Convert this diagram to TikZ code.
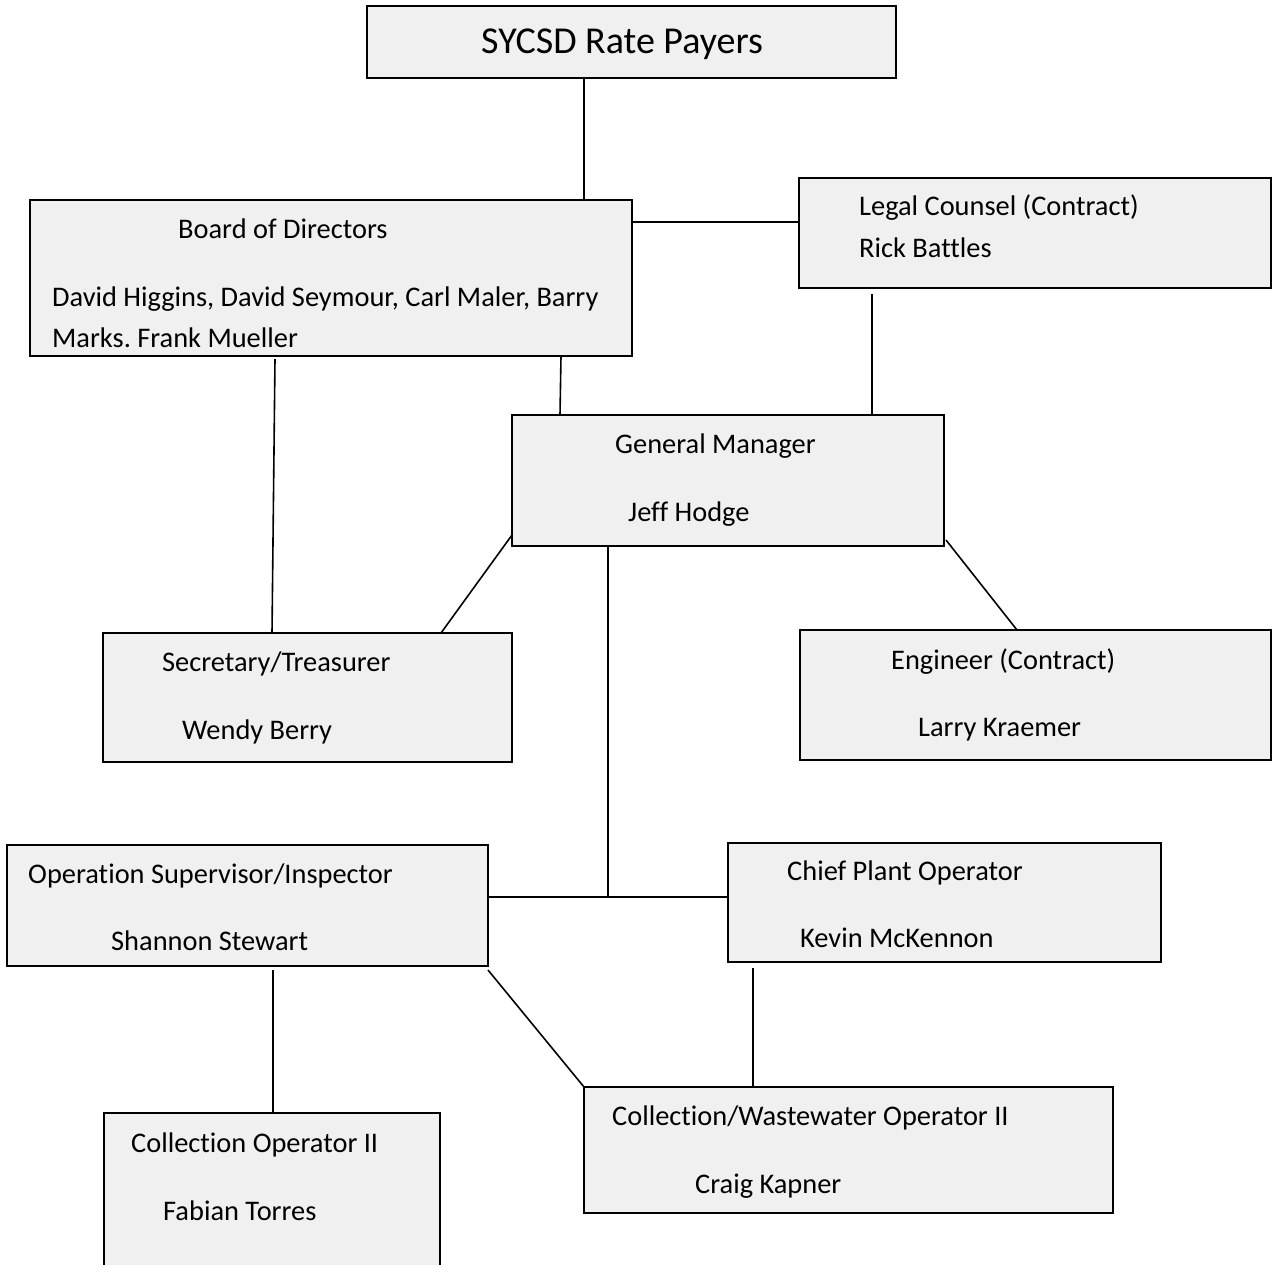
\documentclass[tikz,border=0pt]{standalone}
\usepackage{fontspec}
\setmainfont[Ligatures=NoCommon]{Carlito}
\frenchspacing
\begin{document}
\begin{tikzpicture}[x=1pt,y=-1pt,
  box/.style={draw, line width=1.2pt, fill=black!6, inner sep=0pt, outer sep=0pt, anchor=north west},
  lbl/.style={anchor=mid west, inner sep=0pt, yshift=-7pt, font=\fontsize{28.4}{32}\selectfont},
  ttl/.style={anchor=mid west, inner sep=0pt, yshift=-6pt, font=\fontsize{38}{44}\selectfont},
  conn/.style={line width=1.6pt}]
\useasboundingbox (0,0) rectangle (1272,1264);
% boxes
\node[box, minimum width=529pt, minimum height=72pt] (rp) at (367,6) {};
\node[box, minimum width=602pt, minimum height=156pt] (bod) at (30,200) {};
\node[box, minimum width=472pt, minimum height=110pt] (legal) at (799,178) {};
\node[box, minimum width=432pt, minimum height=131pt] (gm) at (512,415) {};
\node[box, minimum width=409pt, minimum height=129pt] (sec) at (103,633) {};
\node[box, minimum width=471pt, minimum height=130pt] (eng) at (800,630) {};
\node[box, minimum width=481pt, minimum height=121pt] (ops) at (7,845) {};
\node[box, minimum width=433pt, minimum height=119pt] (cpo) at (728,843) {};
\node[box, minimum width=336pt, minimum height=160pt] (co) at (104,1113) {};
\node[box, minimum width=529pt, minimum height=126pt] (cww) at (584,1087) {};
% labels
\node[ttl] (t0) at (481,45) {SYCSD Rate Payers};
\node[lbl] (t1) at (178,229) {Board of Directors};
\node[lbl] (t2) at (52,297) {David Higgins, David Seymour, Carl Maler, Barry};
\node[lbl] (t3) at (52,338) {Marks. Frank Mueller};
\node[lbl] (t4) at (859,206) {Legal Counsel (Contract)};
\node[lbl] (t5) at (859,248) {Rick Battles};
\node[lbl] (t6) at (615,444) {General Manager};
\node[lbl] (t7) at (628,512) {Jeff Hodge};
\node[lbl] (t8) at (162,662) {Secretary/Treasurer};
\node[lbl] (t9) at (182,730) {Wendy Berry};
\node[lbl] (t10) at (891,660) {Engineer (Contract)};
\node[lbl] (t11) at (918,727) {Larry Kraemer};
\node[lbl] (t12) at (28,874) {Operation Supervisor/Inspector};
\node[lbl] (t13) at (111,941) {Shannon Stewart};
\node[lbl] (t14) at (787,871) {Chief Plant Operator};
\node[lbl] (t15) at (800,938) {Kevin McKennon};
\node[lbl] (t16) at (131,1143) {Collection Operator II};
\node[lbl] (t17) at (163,1211) {Fabian Torres};
\node[lbl] (t18) at (612,1116) {Collection/Wastewater Operator II};
\node[lbl] (t19) at (695,1184) {Craig Kapner};
% connectors
\draw[conn] ([xshift=217pt]rp.south west) -- ([xshift=554pt]bod.north west);
\draw[conn] ([yshift=-22pt]bod.north east) -- ([yshift=-44pt]legal.north west);
\draw[conn] ([xshift=531pt]bod.south west) -- ([xshift=48pt]gm.north west);
\draw[conn] ([xshift=73pt,yshift=-6pt]legal.south west) -- ([xshift=360pt]gm.north west);
\draw[conn] ([xshift=245pt,yshift=-3pt]bod.south west) -- ([xshift=169pt]sec.north west);
\draw[conn] ([yshift=11pt]gm.south west) -- ([xshift=338pt]sec.north west);
\draw[conn] ([xshift=2pt,yshift=6pt]gm.south east) -- ([xshift=217pt]eng.north west);
\coordinate (j) at (608,897);
\draw[conn] ([xshift=96pt]gm.south west) -- (j);
\draw[conn] ([yshift=-52pt]ops.north east) -- ([yshift=-54pt]cpo.north west);
\draw[conn] ([xshift=266pt,yshift=-4pt]ops.south west) -- ([xshift=169pt]co.north west);
\draw[conn] ([yshift=-4pt]ops.south east) -- (cww.north west);
\draw[conn] ([xshift=25pt,yshift=-6pt]cpo.south west) -- ([xshift=169pt]cww.north west);
\end{tikzpicture}
\end{document}
